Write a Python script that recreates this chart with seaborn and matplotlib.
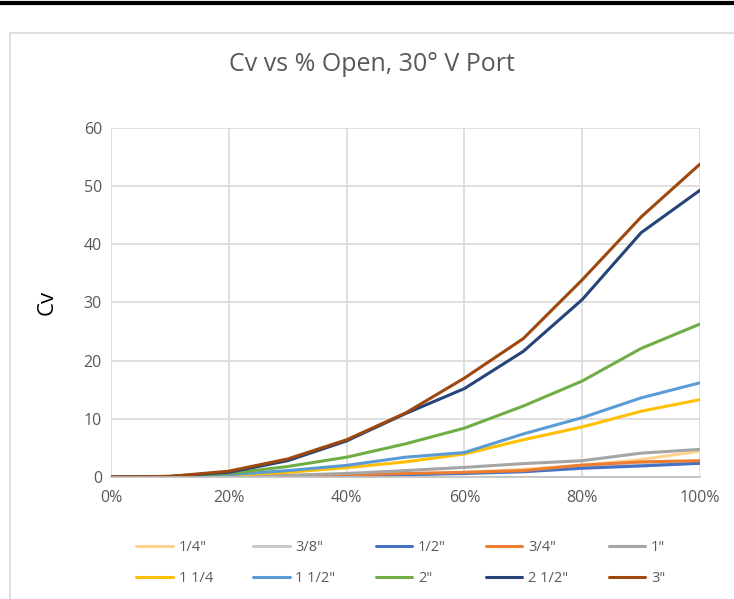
import numpy as np
import pandas as pd
import matplotlib.pyplot as plt
import seaborn as sns
from matplotlib.ticker import PercentFormatter, MultipleLocator
from matplotlib.patches import Rectangle
from matplotlib.lines import Line2D

# ------------------------------------------------------------------
# DATA
# ------------------------------------------------------------------

pct_open = [0.0, 0.1, 0.2, 0.3, 0.4, 0.5, 0.6, 0.7, 0.8, 0.9, 1.0]

sizes = ['1/4"', '3/8"', '1/2"', '3/4"', '1"',
         '1 1/4', '1 1/2"', '2"', '2 1/2"', '3"']

cv_1_4 = [0, 0.0, 0.05, 0.15, 0.3, 0.5, 0.8, 1.3, 2.0, 3.0, 4.45]
cv_3_8 = [0, 0.0, 0.05, 0.15, 0.3, 0.45, 0.7, 1.0, 1.7, 2.2, 2.55]
cv_1_2 = [0, 0.0, 0.05, 0.1, 0.25, 0.4, 0.6, 0.9, 1.5, 1.9, 2.35]
cv_3_4 = [0, 0.0, 0.05, 0.15, 0.35, 0.6, 0.8, 1.1, 2.05, 2.6, 2.8]
cv_1 = [0, 0.0, 0.1, 0.3, 0.6, 1.1, 1.65, 2.3, 2.8, 4.1, 4.75]
cv_1_1_4 = [0, 0.05, 0.3, 0.8, 1.6, 2.6, 3.95, 6.4, 8.6, 11.3, 13.3]
cv_1_1_2 = [0, 0.05, 0.4, 1.1, 2.0, 3.4, 4.2, 7.4, 10.2, 13.6, 16.2]
cv_2 = [0, 0.1, 0.6, 1.8, 3.4, 5.7, 8.4, 12.2, 16.5, 22.1, 26.3]
cv_2_1_2 = [0, 0.1, 0.8, 2.8, 6.2, 10.9, 15.2, 21.6, 30.5, 42.0, 49.3]
cv_3 = [0, 0.1, 1.0, 3.1, 6.4, 11.0, 17.0, 23.8, 33.9, 44.7, 53.8]

series = [cv_1_4, cv_3_8, cv_1_2, cv_3_4, cv_1,
          cv_1_1_4, cv_1_1_2, cv_2, cv_2_1_2, cv_3]

colors = ["#FFD38F", "#C9C9C9", "#4472C4", "#ED7D31", "#A5A5A5",
          "#FFC000", "#5B9BD5", "#70AD47", "#264478", "#9E480E"]

# ------------------------------------------------------------------
# PLOT
# ------------------------------------------------------------------

sns.set_theme(style="white")
plt.rcParams["font.family"] = ["Open Sans", "DejaVu Sans"]

df = pd.DataFrame({
    "open": np.tile(pct_open, len(sizes)),
    "cv": np.concatenate(series),
    "size": np.repeat(sizes, len(pct_open)),
})

fig = plt.figure(figsize=(7.34, 5.99), dpi=100)
ax = fig.add_axes([0.1512, 0.2037, 0.8025, 0.5826])

# chart frame
fig.patches.append(Rectangle((0.014, -0.02), 1.1, 0.965, transform=fig.transFigure,
                             fill=False, edgecolor="#D9D9D9", linewidth=1.2))
fig.add_artist(Line2D([0, 1], [0.995, 0.995], transform=fig.transFigure,
                      color="black", linewidth=3))

sns.lineplot(data=df, x="open", y="cv", hue="size", hue_order=sizes,
             palette=colors, linewidth=2.2, sort=False, ax=ax)

ax.set_xlim(0, 1)
ax.set_ylim(0, 60)
ax.xaxis.set_major_locator(MultipleLocator(0.2))
ax.xaxis.set_major_formatter(PercentFormatter(1.0, decimals=0))
ax.yaxis.set_major_locator(MultipleLocator(10))
ax.grid(True, color="#D9D9D9", linewidth=1.2)
ax.set_axisbelow(True)
for side in ["top", "right", "left"]:
    ax.spines[side].set_visible(False)
ax.spines["bottom"].set_color("#BFBFBF")
ax.spines["bottom"].set_linewidth(1.2)
ax.tick_params(axis="both", length=0, labelsize=11.5, labelcolor="#595959")
ax.tick_params(axis="x", pad=9.5)
ax.tick_params(axis="y", pad=6.5)

ax.set_xlabel("")
ax.set_ylabel("Cv", fontsize=16, color="black")
ax.yaxis.set_label_coords(-0.09, 0.5)

fig.text(0.507, 0.893, "Cv vs % Open, 30° V Port", ha="center", va="center",
         fontsize=18, color="#595959")

handles, labels = ax.get_legend_handles_labels()
ax.get_legend().remove()
order = [0, 5, 1, 6, 2, 7, 3, 8, 4, 9]
leg = fig.legend([handles[i] for i in order], [labels[i] for i in order],
                 ncol=5, loc="center", bbox_to_anchor=(0.546, 0.060),
                 frameon=False, fontsize=10.5, handlelength=2.5,
                 handletextpad=0.4, columnspacing=2.75, labelspacing=1.05)
for t in leg.get_texts():
    t.set_color("#595959")

fig.savefig("out.png", dpi=100)
